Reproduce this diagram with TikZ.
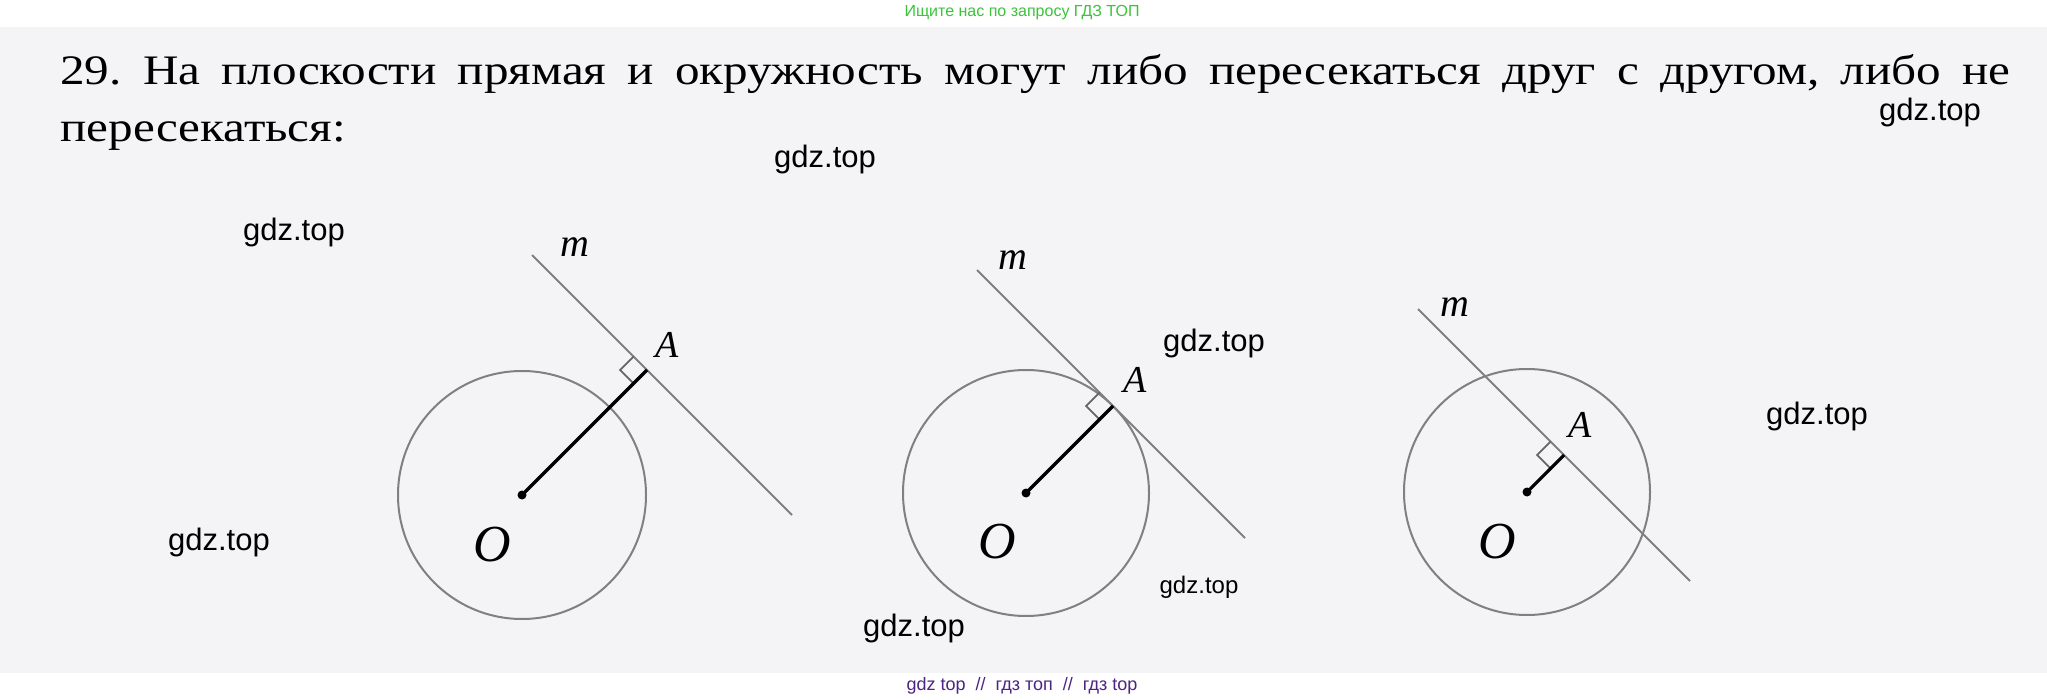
\documentclass[tikz,border=0pt]{standalone}
\usepackage{fontspec}
\setmainfont{Liberation Serif}[FakeStretch=1.17]
\newfontfamily\wmfont{Liberation Sans}
\newfontfamily\labfont{Liberation Serif}
\definecolor{scanbg}{RGB}{244,244,246}
\definecolor{geogray}{RGB}{128,128,128}
\definecolor{adgreen}{RGB}{58,196,58}
\definecolor{adpurple}{RGB}{76,36,130}
\frenchspacing
\begin{document}
\begin{tikzpicture}[x=0.5pt,y=-0.5pt,
  geoline/.style={draw=geogray, line width=1pt},
  radline/.style={draw=black, line width=1.6pt},
  rightmark/.style={draw=geogray!80!black, line width=0.9pt},
  centerdot/.style={circle, fill=black, inner sep=0pt, minimum size=4.5pt},
  lblm/.style={inner sep=0pt, font=\labfont\itshape\fontsize{20pt}{22pt}\selectfont},
  lblA/.style={inner sep=0pt, font=\labfont\itshape\fontsize{19pt}{22pt}\selectfont},
  lblO/.style={inner sep=0pt, font=\labfont\itshape\fontsize{26pt}{28pt}\selectfont},
  wm/.style={inner sep=0pt, text=black, font=\wmfont\fontsize{15.5pt}{18pt}\selectfont},
  wmsmall/.style={inner sep=0pt, text=black, font=\wmfont\fontsize{12pt}{14pt}\selectfont},
  maintext/.style={inner sep=0pt, anchor=base west, font=\fontsize{21pt}{28pt}\selectfont}
]
\useasboundingbox (0,0) rectangle (2047,700);
\fill[white] (0,0) rectangle (2047,700);
\fill[scanbg] (0,27) rectangle (2047,673);

% header and footer
\node[inner sep=0pt, text=adgreen, font=\wmfont\fontsize{8pt}{10pt}\selectfont] (ad) at (1022,13) {Ищите нас по запросу ГДЗ ТОП};
\node[inner sep=0pt, text=adpurple, font=\wmfont\fontsize{9pt}{11pt}\selectfont] (foot) at (1022,686) {gdz top\ \ //\ \ гдз топ\ \ //\ \ гдз top};

% problem text
\node[maintext] (line1) at (60,85) {\makebox[975pt][s]{29. На плоскости прямая и окружность могут либо пересекаться друг с другом, либо не}};
\node[maintext] (line2) at (60,142) {пересекаться:};

% figure 1: no intersection
\coordinate (O1) at (522,495);
\coordinate (A1) at (647,370);
\coordinate (m1s) at (532,255);
\coordinate (m1e) at (792,515);
\draw[geoline] (O1) circle[radius=124];
\draw[geoline] (m1s) -- (m1e);
\draw[rightmark] (A1) ++(-13.4,-13.4) -- ++(-13.4,13.4) -- ++(13.4,13.4);
\draw[radline] (O1) -- (A1);
\node[centerdot] (dot1) at (O1) {};
\node[lblm] (m1) at (575,247) {m};
\node[lblA] (Alab1) at (667,345) {A};
\node[lblO] (Olab1) at (492,545) {O};

% figure 2: tangent
\coordinate (O2) at (1026,493);
\coordinate (A2) at (1113,406);
\coordinate (m2s) at (977,270);
\coordinate (m2e) at (1245,538);
\draw[geoline] (O2) circle[radius=123];
\draw[geoline] (m2s) -- (m2e);
\draw[rightmark] (A2) ++(-13.4,-13.4) -- ++(-13.4,13.4) -- ++(13.4,13.4);
\draw[radline] (O2) -- (A2);
\node[centerdot] (dot2) at (O2) {};
\node[lblm] (m2) at (1013,260) {m};
\node[lblA] (Alab2) at (1135,380) {A};
\node[lblO] (Olab2) at (997,542) {O};

% figure 3: secant
\coordinate (O3) at (1527,492);
\coordinate (A3) at (1564,455);
\coordinate (m3s) at (1418,309);
\coordinate (m3e) at (1690,581);
\draw[geoline] (O3) circle[radius=123];
\draw[geoline] (m3s) -- (m3e);
\draw[rightmark] (A3) ++(-13.4,-13.4) -- ++(-13.4,13.4) -- ++(13.4,13.4);
\draw[radline] (O3) -- (A3);
\node[centerdot] (dot3) at (O3) {};
\node[lblm] (m3) at (1455,307) {m};
\node[lblA] (Alab3) at (1580,425) {A};
\node[lblO] (Olab3) at (1497,542) {O};

% watermarks
\node[wm] (w1) at (1930,112) {gdz.top};
\node[wm] (w2) at (825,159) {gdz.top};
\node[wm] (w3) at (294,232) {gdz.top};
\node[wm] (w4) at (1214,343) {gdz.top};
\node[wm] (w5) at (1817,416) {gdz.top};
\node[wm] (w6) at (219,542) {gdz.top};
\node[wmsmall] (w7) at (1199,587) {gdz.top};
\node[wm] (w8) at (914,628) {gdz.top};
\end{tikzpicture}
\end{document}
